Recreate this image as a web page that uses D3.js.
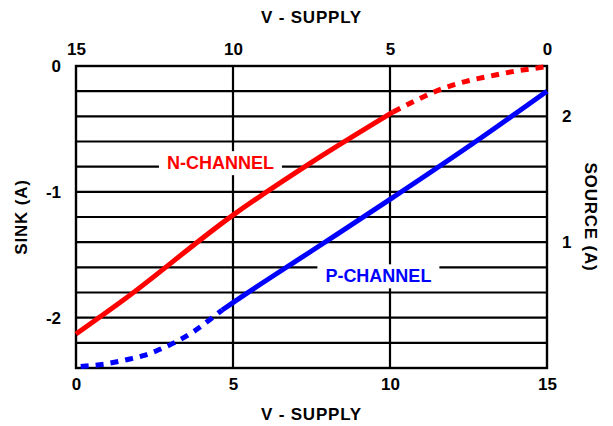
<!DOCTYPE html>
<html>
<head>
<meta charset="utf-8">
<style>
  body { margin: 0; background: #fff; }
  text { font-family: "Liberation Sans", Arial, sans-serif; font-weight: bold; }
  .tick text { font-size: 17px; fill: #000; }
</style>
</head>
<body>
<svg width="613" height="426"></svg>
<script src="https://cdnjs.cloudflare.com/ajax/libs/d3/7.8.5/d3.min.js"></script>
<script>

// top axis (N-channel): V-supply runs 15 -> 0, sink current on left axis
var nSolidV    = [15, 13.49, 10, 7.55, 4.9];
var nSolidSink = [-2.13, -1.86, -1.185, -0.774, -0.365];
var nDashV     = [4.9, 4.2, 3.3, 2.5, 1.8, 1.1, 0.5, 0];
var nDashSink  = [-0.365, -0.276, -0.177, -0.117, -0.08, -0.045, -0.022, -0.005];

// bottom axis (P-channel): V-supply 0 -> 15, source current on right axis
var pDashV     = [0.15, 0.92, 1.72, 2.14, 2.55, 3.2, 3.79, 4.32, 4.65];
var pDashSrc   = [0.012, 0.032, 0.072, 0.098, 0.135, 0.21, 0.297, 0.395, 0.46];
var pSolidV    = [4.65, 5, 7.5, 10, 12.65, 15];
var pSolidSrc  = [0.46, 0.52, 0.93, 1.34, 1.786, 2.2];

var topTicks = [15, 10, 5, 0];
var bottomTicks = [0, 5, 10, 15];
var sinkTicks = [0, -1, -2];
var sourceTicks = [1, 2];

var svg = d3.select("svg"),
    margin = {top: 66, right: 66, bottom: 58, left: 76},
    width = +svg.attr("width") - margin.left - margin.right,
    height = +svg.attr("height") - margin.top - margin.bottom,
    g = svg.append("g").attr("transform", "translate(" + margin.left + "," + margin.top + ")");

var xTop = d3.scaleLinear().domain([15, 0]).range([0, width]);
var xBot = d3.scaleLinear().domain([0, 15]).range([0, width]);
var ySink = d3.scaleLinear().domain([-2.4, 0]).range([height, 0]);
var ySrc = d3.scaleLinear().domain([0, 2.4]).range([height, 0]);

var plain = function(d) { return String(d); };   // keep the plain hyphen minus

// grid
g.append("g")
    .selectAll("line")
    .data(d3.range(1, 12).map(function(i) { return -0.2 * i; }))
    .enter().append("line")
      .attr("x1", 0).attr("x2", width)
      .attr("y1", function(d) { return ySink(d); })
      .attr("y2", function(d) { return ySink(d); })
      .attr("stroke", "#000").attr("stroke-width", 2.2);

g.append("g")
    .selectAll("line")
    .data([5, 10])
    .enter().append("line")
      .attr("x1", function(d) { return xBot(d); })
      .attr("x2", function(d) { return xBot(d); })
      .attr("y1", 0).attr("y2", height)
      .attr("stroke", "#000").attr("stroke-width", 2.2);

g.append("rect")
    .attr("width", width).attr("height", height)
    .attr("fill", "none").attr("stroke", "#000").attr("stroke-width", 2.4);

// axes (labels only)
function clean(sel) {
  sel.select(".domain").remove();
  sel.selectAll(".tick line").remove();
}

g.append("g")
    .call(d3.axisTop(xTop).tickValues(topTicks).tickSize(0).tickPadding(11).tickFormat(plain))
    .call(clean);

g.append("g")
    .attr("transform", "translate(0," + height + ")")
    .call(d3.axisBottom(xBot).tickValues(bottomTicks).tickSize(0).tickPadding(10).tickFormat(plain))
    .call(clean);

g.append("g")
    .call(d3.axisLeft(ySink).tickValues(sinkTicks).tickSize(0).tickPadding(15).tickFormat(plain))
    .call(clean);

g.append("g")
    .attr("transform", "translate(" + width + ",0)")
    .call(d3.axisRight(ySrc).tickValues(sourceTicks).tickSize(0).tickPadding(15).tickFormat(plain))
    .call(clean);

// curves
var nLine = d3.line()
    .x(function(d) { return xTop(d[0]); })
    .y(function(d) { return ySink(d[1]); })
    .curve(d3.curveMonotoneX);

var pLine = d3.line()
    .x(function(d) { return xBot(d[0]); })
    .y(function(d) { return ySrc(d[1]); })
    .curve(d3.curveMonotoneX);

g.append("path")
    .datum(d3.zip(nSolidV, nSolidSink))
    .attr("d", nLine)
    .attr("fill", "none").attr("stroke", "#ff0000").attr("stroke-width", 5);

g.append("path")
    .datum(d3.zip(nDashV, nDashSink))
    .attr("d", nLine)
    .attr("fill", "none").attr("stroke", "#ff0000").attr("stroke-width", 5)
    .attr("stroke-dasharray", "8,7");

g.append("path")
    .datum(d3.zip(pSolidV, pSolidSrc))
    .attr("d", pLine)
    .attr("fill", "none").attr("stroke", "#0000ff").attr("stroke-width", 5);

g.append("path")
    .datum(d3.zip(pDashV, pDashSrc))
    .attr("d", pLine)
    .attr("fill", "none").attr("stroke", "#0000ff").attr("stroke-width", 5)
    .attr("stroke-dasharray", "8,7");

// curve labels with white boxes
function label(text, x, y, color) {
  var grp = g.append("g");
  var box = grp.append("rect").attr("fill", "#fff");
  var t = grp.append("text")
      .attr("x", x).attr("y", y)
      .attr("text-anchor", "middle")
      .attr("fill", color)
      .style("font-size", "18px")
      .text(text);
  var b = t.node().getBBox();
  box.attr("x", b.x - 8).attr("y", b.y - 2)
     .attr("width", b.width + 16).attr("height", b.height + 4);
}

label("N-CHANNEL", xBot(4.6), ySink(-0.8) + 2.5, "#ff0000");
label("P-CHANNEL", xBot(9.63), ySrc(0.8) + 15, "#0000ff");

// axis titles
svg.append("text")
    .attr("x", margin.left + width / 2).attr("y", 23)
    .attr("text-anchor", "middle")
    .style("font-size", "17px").style("letter-spacing", "0.8px")
    .text("V - SUPPLY");

svg.append("text")
    .attr("x", margin.left + width / 2).attr("y", 420)
    .attr("text-anchor", "middle")
    .style("font-size", "17px").style("letter-spacing", "0.8px")
    .text("V - SUPPLY");

svg.append("text")
    .attr("transform", "translate(27," + (margin.top + height / 2) + ") rotate(-90)")
    .attr("text-anchor", "middle")
    .style("font-size", "17px").style("letter-spacing", "0.8px")
    .text("SINK (A)");

svg.append("text")
    .attr("transform", "translate(585," + (margin.top + height / 2) + ") rotate(90)")
    .attr("text-anchor", "middle")
    .style("font-size", "17px").style("letter-spacing", "0.8px")
    .text("SOURCE (A)");

</script>
</body>
</html>
